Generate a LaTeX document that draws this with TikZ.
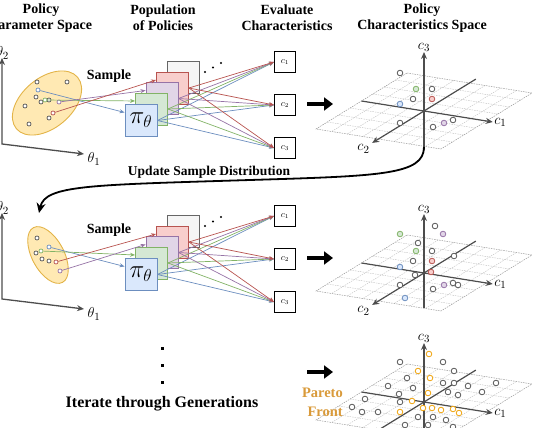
\documentclass[tikz,border=0pt]{standalone}
\usepackage{fontspec}
\setmainfont{Liberation Serif}
\usetikzlibrary{arrows.meta,shapes.geometric}

\definecolor{pblue}{HTML}{6C8EBF}   \definecolor{pbluef}{HTML}{DAE8FC}
\definecolor{pgreen}{HTML}{82B366}  \definecolor{pgreenf}{HTML}{D5E8D4}
\definecolor{ppurple}{HTML}{9673A6} \definecolor{ppurplef}{HTML}{E1D5E7}
\definecolor{pred}{HTML}{B85450}    \definecolor{predf}{HTML}{F8CECC}
\definecolor{pgray}{HTML}{666666}   \definecolor{pgrayf}{HTML}{F5F5F5}
\definecolor{porange}{HTML}{F0A30A} \definecolor{porangef}{HTML}{FFFFFF}
\definecolor{pareto}{HTML}{D99A3A}
\definecolor{ellb}{HTML}{E3B448}    \definecolor{ellf}{HTML}{FFE9B3}
\definecolor{axgray}{HTML}{4D4D4D}  \definecolor{dotgray}{HTML}{555555}
\colorlet{dotgrayf}{white}

\tikzset{
  head/.style={font=\bfseries\fontsize{14}{16}\selectfont, align=center, inner sep=0pt},
  pol/.style={draw=#1, fill=#1f, line width=0.9pt, minimum size=32pt, inner sep=0pt},
  cbox/.style={draw, line width=0.9pt, minimum size=21pt, inner sep=0pt, font=\fontsize{9}{9}\selectfont},
  conn/.style={draw=#1, line width=0.7pt, -{Stealth[length=5pt,width=4pt]}},
  sdot/.style={circle, draw=#1, fill=white, line width=0.7pt, minimum size=4pt, inner sep=0pt},
  gdot/.style={draw=dotgray, fill=white, line width=0.7pt},
  pdot/.style={draw=#1, fill=#1f, line width=0.8pt},
  pdot/.default=dotgray,
  paxis/.style={draw=axgray, line width=1.3pt},
  axlab/.style={inner sep=1pt, font=\fontsize{15}{15}\selectfont},
  bigarrow/.style={line width=3.5pt, -{Triangle[length=9pt,width=13pt]}},
  grid3/.style={draw=gray!50, line width=0.4pt, dash pattern=on 1.5pt off 1pt},
  border3/.style={draw=gray!80, line width=0.5pt, dash pattern=on 1.5pt off 1pt},
  ax3/.style={draw=axgray, line width=1.2pt},
}

\begin{document}
\begin{tikzpicture}[x=1pt,y=-1pt]
\useasboundingbox (0,0) rectangle (538,428);

% column titles
\node[head] (h1) at (41,18) {Policy\\Parameter Space};
\node[head] (h2) at (163,18) {Population\\of Policies};
\node[head] (h3) at (287,18) {Evaluate\\Characteristics};
\node[head] (h4) at (422,18) {Policy\\Characteristics Space};

% parameter space axes
\foreach \dy in {0,155} {
  \draw[paxis, {Stealth[length=7pt,width=6pt]}-{Stealth[length=7pt,width=6pt]}]
    (2,58+\dy) -- (2,144+\dy) -- (84,154+\dy);
  \node[axlab] (th1\dy) at (94,159+\dy) {$\theta_1$};
  \node[axlab, anchor=east] (th2\dy) at (10,53+\dy) {$\theta_2$};
}

% sample distributions
\node[ellipse, draw=ellb, fill=ellf, line width=0.9pt, minimum width=80pt, minimum height=50pt, inner sep=0pt, rotate=40] (ella) at (47,103) {};
\foreach \p in {(37,82),(67,82),(36,97),(41,102),(49,100),(25,106),(49,118),(29,124)}
  \draw[gdot] \p circle (2);
\node[sdot=pblue] (spbluea) at (38,90) {};
\node[sdot=pgreen] (spgreena) at (45,100) {};
\node[sdot=ppurple] (sppurplea) at (59,102) {};
\node[sdot=pred] (spreda) at (53,113) {};

\node[ellipse, draw=ellb, fill=ellf, line width=0.9pt, minimum width=62pt, minimum height=32pt, inner sep=0pt, rotate=-62] (ellb) at (48,255) {};
\foreach \p in {(37,238),(36,253),(42,259),(49,261)}
  \draw[gdot] \p circle (2);
\node[sdot=pblue] (spblueb) at (49,247) {};
\node[sdot=pgreen] (spgreenb) at (41,251) {};
\node[sdot=pred] (spredb) at (56,262) {};
\node[sdot=ppurple] (sppurpleb) at (60,271) {};

% population of policies and their characteristics
\foreach \s/\dy in {a/0,b/154} {
  \begin{scope}[shift={(0,\dy)}]
    \foreach \c [count=\i from 0] in {pgray,pred,ppurple,pgreen}
      \node[pol=\c] (\c\s) at (183-10.5*\i,77.5+10.5*\i) {};
    \node[pol=pblue, font=\fontsize{24}{24}\selectfont] (pblue\s) at (141,120.5) {$\pi_\theta$};
    \fill (205,72) circle (1.2) (213,67.5) circle (1.2) (221,63) circle (1.2);
    \node[font=\bfseries\fontsize{14}{14}\selectfont, inner sep=0pt] (smp\s) at (109,76) {Sample};
    \foreach \k/\y in {1/62,2/105,3/148}
      \node[cbox] (c\k\s) at (285,\y) {$c_\k$};
    \foreach \c in {pblue,pgreen,ppurple,pred} {
      \draw[conn=\c] (s\c\s) -- (\c\s.154);
      \foreach \k in {1,2,3}
        \draw[conn=\c] (\c\s.east) -- (c\k\s.west);
    }
  \end{scope}
}

% arrows to the characteristics space
\coordinate (ga) at (307,104);
\coordinate (gb) at (307,258);
\coordinate (gc) at (307,372);
\foreach \g in {ga,gb,gc}
  \draw[bigarrow] (\g) -- ++(26,0);

% characteristics spaces
\foreach \oy/\zd in {111/-3.9,273/-3.5,402/-3.5} {
  \begin{scope}[shift={(424,\oy)}, x={(12.5pt,-2pt)}, y={(-9.1pt,-5.6pt)}, z={(0pt,10pt)}]
    \foreach \t in {-3.75,-2.5,...,3.8} {
      \draw[grid3] (\t,-5,0) -- (\t,5,0);
      \draw[grid3] (-5,\t,0) -- (5,\t,0);
    }
    \draw[border3] (-5,-5,0) -- (5,-5,0) -- (5,5,0) -- (-5,5,0) -- cycle;
    \draw[ax3, -{Stealth[length=7pt,width=6pt]}] (-5,0,0) -- (5.5,0,0)
      node[axlab, anchor=west] {$c_1$};
    \draw[ax3, -{Stealth[length=7pt,width=6pt]}] (0,-5.7,0) -- (0,5.7,0)
      node[axlab, anchor=east, xshift=-1pt, yshift=-6pt] {$c_2$};
    \draw[ax3, -{Stealth[length=7pt,width=6pt]}] (0,0,\zd) -- (0,0,5.9)
      node[axlab, anchor=south, inner sep=0pt] {$c_3$};
  \end{scope}
}

% first generation
\foreach \p in {(400,73),(432,89),(413,99),(400,123),(433,127),(453,120)}
  \draw[pdot] \p circle (2.8);
\draw[pdot=pgreen] (416,89) circle (2.8);
\draw[pdot=pred] (432,99) circle (2.8);
\draw[pdot=pblue] (400,104) circle (2.8);
\draw[pdot=ppurple] (444,123) circle (2.8);

% second generation
\foreach \p in {(435,226),(418,243),(432,251),(454,256),(413,261),(415,275),(400,285),(433,289),(453,283),(458,285)}
  \draw[pdot] \p circle (2.8);
\foreach \p in {(400,234),(416,251)} \draw[pdot=pgreen] \p circle (2.8);
\foreach \p in {(443,234),(444,285)} \draw[pdot=ppurple] \p circle (2.8);
\foreach \p in {(432,261),(431,272)} \draw[pdot=pred] \p circle (2.8);
\foreach \p in {(400,267),(405,298)} \draw[pdot=pblue] \p circle (2.8);

% last generation
\foreach \p in {(400,362),(443,362),(454,371),(407,378),(443,383),(454,383),(468,386),(496,383),(388,386),(413,388),(399,394),(448,392),(458,395),(482,392),(365,399),(400,402),(352,407),(362,412),(378,412),(418,417),(433,417),(446,420),(405,425),(428,425),(453,427)}
  \draw[pdot] \p circle (2.8);
\foreach \p in {(429,354),(418,371),(430,378),(428,393),(412,401),(400,412),(423,408),(432,408),(441,410),(453,409),(459,413)}
  \draw[pdot=porange] \p circle (2.8);
\node[font=\bfseries\fontsize{14.5}{19}\selectfont, text=pareto, align=right, anchor=east, inner sep=0pt] (pf) at (343,402) {Pareto\\Front};

% update loop
\coordinate (upst) at (424,147);
\coordinate (upend) at (39,213);
\draw[line width=1.8pt, -{Stealth[length=10pt,width=9pt]}] (upst)
  .. controls (424,175) and (380,176) .. (250,180)
  .. controls (90,185) and (45,185) .. (upend);
\node[font=\bfseries\fontsize{13.5}{13.5}\selectfont, inner sep=0pt] (upd) at (209,172) {Update Sample Distribution};

% more generations
\foreach \y in {348,365,382}
  \fill (160.5,\y-1.5) rectangle ++(3.5,3.5);
\node[font=\bfseries\fontsize{16}{16}\selectfont, inner sep=0pt] (iter) at (162,404) {Iterate through Generations};

\end{tikzpicture}
\end{document}
